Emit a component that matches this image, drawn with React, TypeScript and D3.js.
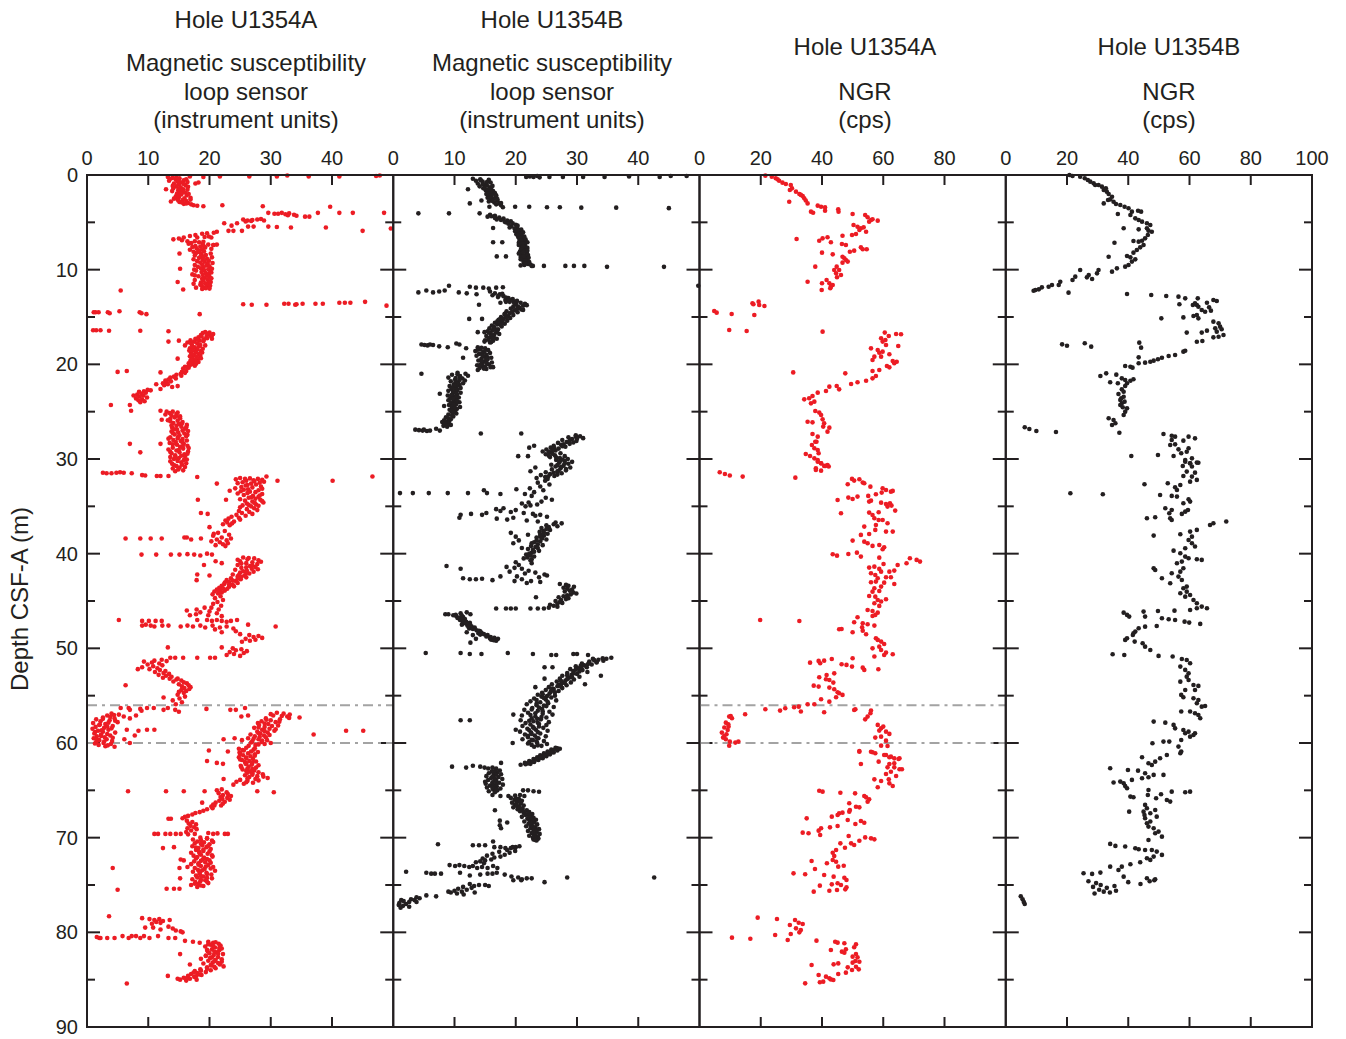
import React from "react";
import * as d3 from "d3";

// Core-logging scatter plots: magnetic susceptibility (loop sensor) and NGR
// versus depth for Holes U1354A and U1354B.

type Pt = [number, number]; // [depth CSF-A (m), measured value]

const depthTicks = [0, 10, 20, 30, 40, 50, 60, 70, 80, 90];
const depthMinorTicks = [5, 15, 25, 35, 45, 55, 65, 75, 85];
const msTicks = [0, 10, 20, 30, 40];
const ngrTicksA = [0, 20, 40, 60, 80];
const ngrTicksB = [0, 20, 40, 60, 80, 100];
const gapDepths = [56, 60];

// Hole U1354A, magnetic susceptibility (instrument units)
const msHoleA: Pt[] = [
  [0.2,13.2],[0.3,14.0],[0.35,15.1],[0.4,13.6],[0.5,14.5],[0.55,15.8],[0.6,13.4],[0.7,14.8],[0.8,15.5],[0.9,14.2],[1.0,15.0],[1.1,16.1],[1.2,14.6],[1.3,15.3],[1.4,14.1],[1.5,15.7],[1.6,14.9],[1.7,13.9],[1.75,15.2],[1.85,16.0],[1.95,14.7],[2.05,15.4],[2.15,16.3],[2.25,14.5],[2.35,15.0],[2.45,15.9],[2.55,14.8],[2.65,15.6],[2.75,16.2],[2.85,15.1],[2.95,16.5],[3.05,15.8],[3.1,17.0],[1.5,12.9],[2.8,13.7],[0.9,17.7],[0.8,18.2],
  [0.15,16.8],[0.2,19.0],[0.15,21.7],[0.15,26.5],[0.15,31.0],[0.05,32.7],[0.15,36.2],[0.15,41.2],[0.1,47.2],[0.05,47.8],
  [3.2,17.4],[3.25,18.0],[3.3,19.0],[3.2,22.1],[3.3,28.7],
  [4.0,29.6],[4.1,30.6],[4.0,31.8],[4.15,32.4],[4.05,33.0],[4.2,33.8],[4.3,34.2],[4.25,32.8],[4.1,31.2],[4.4,35.6],[4.4,36.3],[4.0,37.7],[3.35,39.7],[4.0,41.2],[4.0,43.4],[4.0,48.5],
  [4.7,25.5],[4.8,26.2],[4.75,27.0],[4.7,27.8],[4.65,28.4],[4.8,28.9],[4.85,26.8],[4.9,25.9],[5.1,24.5],[5.1,22.4],[5.35,23.6],[5.45,29.6],[5.5,31.0],[5.55,33.3],[5.55,39.0],[5.9,45.0],[5.65,49.6],
  [5.45,26.3],[5.45,27.2],[5.9,25.3],[5.9,23.9],[5.9,23.1],[6.0,21.2],[6.1,20.7],[6.15,19.6],[6.2,18.8],[6.35,17.7],[6.45,16.8],[6.6,15.8],[6.7,15.0],[6.8,14.1],[6.6,18.0],[6.55,19.2],[6.5,19.9],[6.6,20.3],
  [6.9,15.5],[7.0,16.4],[7.0,17.6],[7.1,18.3],[7.2,17.0],[7.3,18.9],[7.35,19.8],[7.4,20.6],[7.5,17.7],[7.55,18.5],[7.65,19.3],[7.75,17.9],[7.85,18.8],[7.95,18.2],[8.05,19.1],[8.15,18.4],[8.25,17.8],[8.35,18.7],[8.45,19.4],[8.55,18.6],[8.65,19.0],[8.75,18.3],[8.85,19.6],[8.95,18.9],[9.05,19.9],[9.15,19.2],[9.25,18.5],[9.35,19.7],[9.45,18.8],[9.55,19.5],[9.65,20.0],[9.75,19.0],[9.85,18.6],[9.95,19.8],[10.05,19.1],[10.15,20.1],[10.25,18.7],[10.35,19.4],[10.45,19.9],[10.55,18.9],[10.65,19.6],[10.75,20.0],[10.85,19.2],[10.95,18.8],[11.05,19.7],[11.15,19.0],[11.25,19.9],[11.35,18.6],[11.45,19.3],[11.55,19.8],[11.65,18.7],[11.75,19.5],[11.85,18.9],[11.95,19.4],[12.05,18.8],
  [8.3,15.1],[9.9,15.2],[11.3,14.8],[12.1,15.7],[10.0,17.5],[10.6,17.6],[11.6,18.5],[7.4,20.7],[7.35,21.2],
  [12.2,5.5],
  [13.65,25.5],[13.7,26.9],[13.7,29.3],[13.6,32.2],[13.6,32.9],[13.7,34.0],[13.65,34.2],[13.6,35.2],[13.6,37.3],[13.6,38.5],[13.5,41.2],[13.5,42.1],[13.5,43.0],[13.4,45.4],[13.8,48.9],
  [14.5,1.1],[14.5,1.4],[14.5,1.9],[14.5,3.4],[14.6,3.7],[14.4,5.3],[14.5,8.6],[14.6,8.9],[14.7,9.7],[14.7,18.4],
  [16.4,1.0],[16.4,1.5],[16.4,2.2],[16.45,3.6],[16.45,8.7],[16.5,13.3],
  [16.6,19.3],[16.65,20.0],[16.7,18.9],[16.8,20.6],[16.85,19.8],[16.9,18.6],[17.0,20.2],[17.1,19.5],[17.15,18.2],[17.3,17.7],[17.35,19.1],[17.45,16.9],[17.5,18.4],[17.6,17.5],[17.7,16.4],[17.8,18.0],[17.9,17.1],[18.0,16.0],[18.1,18.3],[18.2,17.6],[18.3,16.8],[18.4,18.0],[18.5,17.3],[18.6,18.6],[18.7,17.8],[18.8,17.0],[18.9,18.2],[19.0,17.5],[19.1,18.5],[19.2,17.9],[19.3,17.2],[19.4,18.1],[19.5,17.6],[19.6,16.9],[19.7,17.7],[19.8,17.2],[19.9,16.6],[20.0,17.4],[20.1,16.8],[20.25,16.0],[20.35,16.6],[20.45,15.7],
  [17.5,15.0],[17.6,13.3],[19.4,14.8],[18.0,19.3],[17.3,20.4],
  [20.7,16.2],[20.8,15.5],[20.9,16.0],[21.0,15.3],[21.1,14.6],[21.2,15.4],[21.3,14.2],[21.4,13.6],[21.5,14.5],[21.6,13.3],[21.7,12.8],[21.8,13.7],[21.9,13.0],[22.0,12.4],[22.1,13.2],[22.2,12.6],[22.3,14.8],[22.4,13.9],
  [20.8,5.0],[20.7,6.5],[20.85,12.0],[22.1,11.3],[22.6,12.0],
  [22.7,9.9],[22.75,10.4],[22.85,9.3],[22.9,8.5],[23.0,9.6],[23.1,8.9],[23.2,8.2],[23.3,9.2],[23.4,8.6],[23.5,9.8],[23.6,8.0],[23.7,9.0],[23.8,8.4],[23.9,9.4],[24.0,8.7],[23.3,7.6],
  [24.3,3.9],[24.3,7.0],[24.9,7.2],
  [24.9,12.0],[25.0,13.0],[25.0,14.0],[25.15,13.5],[25.25,14.6],[25.4,13.8],[25.5,15.2],[25.6,14.3],[25.75,13.6],[25.85,12.2],[25.9,13.2],[25.95,14.8],[26.1,15.6],[26.2,14.1],[26.3,15.0],[26.4,16.3],[26.5,14.6],[26.6,15.4],[26.7,13.9],[26.8,16.0],[26.9,14.7],[27.0,15.6],[27.1,13.8],[27.2,14.9],[27.3,15.9],[27.4,14.3],[27.5,15.1],[27.6,16.2],[27.7,13.6],[27.8,14.8],[27.9,15.6],[28.0,14.1],[28.1,15.3],[28.2,14.5],[28.3,13.5],[28.4,15.8],[28.5,14.7],[28.6,16.4],[28.7,15.2],[28.8,14.0],[28.9,15.7],[29.0,13.3],[29.1,14.6],[29.2,16.5],[29.3,15.1],[29.4,13.8],[29.5,15.9],[29.6,14.4],[29.7,16.0],[29.8,13.6],[29.9,15.0],[30.0,14.2],[30.1,15.8],[30.2,14.8],[30.35,15.4],[30.5,13.9],[30.6,15.5],[30.75,14.6],[30.9,15.1],[31.0,14.0],[31.2,15.7],[31.3,14.4],
  [28.4,7.0],[29.3,8.7],[28.4,12.0],
  [31.45,2.6],[31.5,3.2],[31.5,4.0],[31.45,4.8],[31.4,5.4],[31.45,6.0],[31.5,7.3],[31.7,9.0],[31.75,9.5],[31.8,11.4],[31.8,12.0],[31.8,13.3],[31.9,18.0],
  [31.85,29.3],[32.3,31.1],[32.3,40.1],[31.85,46.6],
  [32.0,25.0],[32.05,26.6],[32.1,27.9],[32.15,24.3],[32.2,28.6],[32.3,26.0],[32.35,27.3],[32.45,25.4],[32.5,28.2],[32.6,26.8],[32.7,27.6],[32.8,25.9],[32.9,28.4],[33.0,27.0],[33.1,24.2],[33.2,26.3],[33.3,28.0],[33.35,23.3],[33.4,25.1],[33.5,27.5],[33.6,26.2],[33.7,28.6],[33.8,25.6],[33.9,27.1],[34.0,28.0],[34.1,26.4],[34.2,27.5],[34.3,28.3],[34.4,25.8],[34.5,27.0],[34.6,28.8],[34.7,26.1],[34.8,27.6],[34.9,25.4],[35.0,26.8],
  [32.6,21.2],[34.3,18.1],[34.3,22.7],
  [35.1,25.0],[35.2,27.3],[35.3,26.1],[35.4,27.8],[35.5,24.8],[35.6,26.5],[35.7,25.3],[35.8,27.0],[35.9,24.4],[36.0,25.9],[36.1,23.6],[36.2,24.8],[36.3,23.1],[36.4,25.0],[36.5,22.6],[36.6,24.0],[36.7,22.9],[36.8,23.7],[36.9,22.2],[37.0,23.3],
  [35.7,18.6],[35.8,19.7],[37.2,20.0],[37.9,20.7],
  [37.6,22.5],[37.8,21.4],[38.0,23.2],[38.1,20.6],[38.3,22.0],[38.4,23.5],[38.5,21.2],[38.6,22.8],[38.7,20.3],[38.8,21.7],[38.9,23.0],[39.0,22.2],[39.1,21.0],[39.2,22.6],
  [38.4,6.3],[38.4,8.7],[38.4,10.4],[38.4,12.2],[38.3,15.9],[38.3,16.3],[38.5,17.0],[38.4,18.6],
  [40.1,8.9],[40.1,11.3],[40.1,13.7],[40.1,15.1],[40.05,16.4],[40.1,17.5],[40.2,18.5],[40.0,19.6],[40.1,20.4],
  [40.4,25.5],[40.5,27.3],[40.6,26.2],[40.7,28.0],[40.8,25.0],[40.9,27.0],[41.0,26.0],[41.1,27.8],[41.2,24.6],[41.3,26.6],[41.4,27.5],[41.5,25.2],[41.6,26.9],[41.7,24.2],[41.8,26.1],[41.9,27.2],[42.0,25.0],[42.1,26.5],[42.2,23.8],[42.3,25.7],[42.4,24.6],[42.5,26.0],[42.6,23.5],[42.7,25.1],[42.8,22.8],[42.9,24.3],[43.0,23.2],[43.1,24.6],[43.2,22.4],[43.3,23.8],[43.4,22.0],[43.5,23.2],[43.6,21.6],[43.7,22.9],[43.8,21.2],[43.9,22.5],[44.0,20.8],[44.1,22.0],[44.2,21.4],[44.3,20.5],
  [42.2,18.0],[42.3,20.0],[41.2,19.1],[42.8,17.9],[41.0,22.0],[40.8,21.0],
  [44.5,21.8],[44.7,20.9],[44.9,22.2],[45.1,21.3],[45.3,20.6],[45.5,21.9],[45.7,20.3],[45.9,21.5],[46.1,20.0],[46.3,21.2],[46.5,19.8],[46.6,22.0],
  [45.9,17.9],[46.0,16.3],[46.2,18.5],[45.7,19.2],[46.5,16.8],[46.4,17.8],
  [47.0,5.2],[47.1,9.0],[47.1,10.1],[47.1,11.2],[47.1,12.2],[47.0,18.0],[47.0,19.6],[47.1,20.4],[47.0,21.2],[47.1,22.0],[47.2,22.8],[47.1,23.5],[47.0,24.5],
  [47.6,9.0],[47.5,9.6],[47.6,10.4],[47.7,11.0],[47.6,12.3],[47.6,13.3],[47.7,15.3],[47.6,16.4],[47.7,17.3],[47.6,18.5],[47.8,19.3],[47.6,20.5],[47.8,21.7],[47.7,22.8],[47.9,23.9],[48.0,20.9],[48.3,22.0],[48.2,24.3],[47.5,26.3],[47.7,30.8],
  [48.6,26.5],[48.7,28.0],[48.8,27.2],[48.9,28.6],[49.0,25.9],[49.1,27.5],[49.2,26.6],[48.5,25.0],[49.3,25.3],
  [49.9,22.0],[50.0,23.8],[50.1,25.2],[50.2,24.3],[50.3,26.1],[50.4,23.3],[50.5,25.6],[50.6,24.0],[50.7,22.8],[50.8,25.0],[49.9,13.2],
  [51.0,13.6],[51.0,14.4],[51.0,15.7],[51.0,18.0],[51.0,20.1],[51.0,20.9],
  [51.2,12.2],[51.3,11.0],[51.35,13.0],[51.4,9.3],[51.5,10.6],[51.6,11.8],[51.7,9.9],[51.8,12.3],[51.9,10.8],[52.0,9.0],[52.1,11.5],[52.2,10.2],[52.3,11.9],[52.4,12.8],[52.5,11.1],[52.6,12.5],[52.7,13.4],[52.8,11.7],[52.9,12.9],[53.0,13.8],[53.1,12.4],[53.2,13.5],[53.3,14.6],[53.4,15.4],[53.5,14.1],[53.6,15.8],[53.7,16.3],[53.8,15.0],[53.9,16.6],[54.0,15.5],[54.1,16.9],[54.2,15.9],[54.3,16.7],[54.4,15.4],[54.5,16.2],[54.6,15.0],[54.7,15.8],
  [52.2,8.3],[53.9,6.3],[53.2,14.8],
  [54.9,14.8],[55.1,16.0],[55.3,15.1],[55.5,14.0],[55.7,15.5],[55.9,14.5],[55.2,12.5],
  [56.3,5.5],[56.3,6.8],[56.5,7.0],[56.4,8.7],[56.3,9.8],[56.3,10.9],[56.5,12.5],[56.3,13.2],[56.5,14.4],[56.7,15.0],[56.6,8.9],[56.4,19.5],[56.5,23.4],[56.5,24.3],[56.3,25.8],
  [56.9,4.0],[57.0,5.2],[57.1,3.3],[57.2,6.0],[57.3,2.6],[57.4,4.5],[57.5,1.5],[57.6,3.7],[57.7,2.2],[57.8,5.0],[57.9,1.0],[58.0,3.0],[58.1,2.0],[58.2,4.2],[58.3,1.4],[58.4,2.8],[58.5,0.9],[58.6,3.5],[58.7,1.8],[58.8,2.6],[58.9,4.6],[59.0,1.2],[59.1,2.3],[59.2,3.8],[59.3,1.6],[59.4,2.9],[59.5,1.1],[59.6,3.2],[59.7,2.0],[59.8,4.1],[59.9,1.5],[60.0,2.7],[60.1,3.9],[60.2,1.9],[60.35,3.0],[60.4,4.5],
  [57.4,7.0],[58.6,6.5],[58.7,8.4],[58.6,9.8],[58.6,11.0],[59.2,7.8],[60.0,7.0],[59.6,6.1],[57.1,8.0],
  [56.8,31.0],[56.9,32.1],[57.0,33.1],[57.1,30.4],[57.2,32.7],[57.3,34.7],[57.4,29.2],[57.5,31.5],[57.6,30.0],[57.7,28.5],[57.8,30.8],[57.9,27.9],[58.0,29.6],[58.1,28.1],[58.2,30.2],[58.3,29.0],[58.4,27.3],[58.5,29.8],[58.6,28.6],[58.7,30.6],[58.8,27.8],[58.9,29.5],[59.0,28.3],[59.1,26.7],[59.2,28.9],[59.3,27.4],[59.4,29.2],[59.5,26.3],[59.6,28.0],[59.7,29.4],[59.8,27.0],[59.9,28.5],[60.0,30.0],[60.1,29.0],[60.2,27.5],
  [59.1,37.0],[58.7,42.3],[58.7,45.1],[59.6,22.3],[59.5,24.1],[59.7,25.3],[57.2,25.2],[57.1,26.3],
  [60.5,26.0],[60.6,24.8],[60.7,27.2],[60.8,25.6],[60.9,26.8],[61.0,24.9],[61.1,26.3],[61.2,27.4],[61.3,25.5],[61.4,26.7],[61.5,24.8],[61.6,26.0],[61.7,27.1],[61.8,25.3],[61.9,26.5],[62.0,25.8],[62.1,27.0],[62.2,25.9],[62.3,26.9],[62.4,25.1],[62.5,26.4],[62.6,27.6],[62.7,26.2],[62.8,25.4],[62.9,27.3],[63.0,26.6],[63.1,28.0],[63.2,27.0],[63.3,28.7],[63.4,25.8],[63.5,27.8],[63.6,26.5],[63.7,29.5],[63.8,27.5],[63.9,25.0],[64.0,26.2],[64.1,24.4],[64.2,27.1],[64.3,25.6],
  [60.8,19.9],[60.9,23.0],[61.9,19.6],[62.1,21.2],[62.2,22.2],[63.8,22.3],[64.4,23.9],[65.1,27.8],[65.2,30.5],
  [65.1,6.7],[65.1,12.9],[65.1,15.8],[65.1,19.2],
  [64.9,22.0],[65.0,21.2],[65.2,22.8],[65.3,21.5],[65.4,23.0],[65.5,22.2],[65.6,23.5],[65.7,21.8],[65.8,22.9],[65.9,22.1],[66.0,23.3],[66.1,21.6],[66.2,22.5],[66.3,21.0],[66.4,22.2],[66.5,20.6],[66.6,21.9],[66.7,20.3],[66.3,18.8],[66.6,20.8],
  [66.9,20.5],[67.0,19.6],[67.15,19.0],[67.3,18.4],[67.4,17.7],[67.55,17.2],[67.7,16.5],[67.8,16.0],[67.95,15.6],[68.0,13.3],[68.0,13.7],
  [68.2,16.3],[68.35,17.2],[68.5,16.6],[68.6,17.8],[68.75,16.9],[68.9,17.5],[69.0,16.4],[69.1,17.9],[69.25,17.0],[69.4,16.2],
  [69.6,11.0],[69.6,11.6],[69.6,12.8],[69.6,13.6],[69.6,14.5],[69.6,15.3],[69.65,16.5],[69.6,17.6],[69.5,19.8],[69.6,20.6],[69.55,21.3],[69.6,22.5],[69.6,23.0],
  [70.0,18.5],[70.1,19.6],[70.2,17.3],[70.3,20.4],[70.4,18.0],[70.5,19.1],[70.6,17.6],[70.7,20.0],[70.8,18.8],[70.9,17.2],[71.0,19.5],[71.1,18.2],[71.2,20.2],[71.3,17.8],[71.4,19.0],[71.5,18.3],[71.6,17.0],[71.7,19.7],[71.8,18.6],[71.9,17.4],[72.0,20.5],[72.1,19.1],[72.2,17.8],[72.3,18.9],[72.4,20.0],[72.5,17.5],[72.6,19.3],[72.7,18.2],[72.8,17.0],[72.9,19.8],[73.0,18.6],[73.1,20.6],[73.2,17.6],[73.3,19.2],[73.4,18.1],[73.5,20.9],[73.6,17.3],[73.7,19.5],[73.8,18.4],[73.9,20.3],[74.0,17.8],[74.1,19.0],[74.2,18.0],[74.3,20.4],[74.4,17.2],[74.5,19.3],[74.6,18.5],[74.7,17.7],[74.8,19.8],[74.9,18.2],[75.0,17.0],[75.1,19.0],[75.2,18.0],
  [71.1,12.4],[71.0,14.2],[72.3,15.3],[72.4,15.8],[73.2,15.1],[74.3,15.2],[73.1,16.4],[73.2,4.2],[75.5,5.0],[75.4,13.0],[75.4,14.2],[75.4,15.1],
  [78.3,3.6],[78.5,9.0],[78.6,10.2],[78.7,11.0],[78.6,11.8],[78.8,12.4],[78.9,11.3],[78.7,13.5],[79.0,12.0],[79.1,10.6],
  [79.5,9.5],[79.5,10.8],[79.7,12.0],[79.4,13.3],[79.8,14.5],[79.9,15.3],[80.0,15.6],[79.6,14.0],
  [80.5,1.6],[80.6,2.0],[80.6,2.2],[80.6,3.3],[80.6,4.5],[80.4,5.8],[80.6,6.8],[80.4,7.3],[80.4,8.0],[80.6,8.7],[80.4,9.3],[80.6,10.2],[80.4,11.6],[80.6,13.3],[80.6,14.4],
  [80.9,16.0],[81.0,17.3],[81.1,18.4],[81.0,19.8],[81.1,20.6],[81.2,21.5],[81.3,20.2],[81.4,21.8],[81.5,19.3],[81.6,20.9],[81.7,22.0],[81.8,20.4],[81.9,21.6],[82.0,19.7],[82.1,21.2],[82.2,20.0],[82.3,22.2],[82.4,20.7],[82.5,19.4],[82.6,21.4],[82.7,20.1],[82.8,18.6],[82.9,21.0],[83.0,19.8],[83.1,22.0],[83.2,20.5],[83.3,19.0],[83.4,21.7],[83.5,20.3],[83.6,22.3],[83.7,19.6],[83.8,21.0],[83.9,18.5],[84.0,20.2],[84.1,17.6],[84.2,19.4],[84.3,18.0],[84.4,17.0],[84.5,18.7],[84.6,16.5],[84.7,17.5],[84.8,15.8],[84.9,16.8],[85.0,15.2],[85.1,16.2],[85.0,17.9],[84.9,14.8],
  [82.3,15.2],[83.4,16.8],[84.6,13.2],[85.4,6.5],
  // densely sampled core intervals
  [0.25,14.6],[0.45,16.2],[0.65,15.0],[0.75,16.4],[0.95,15.8],[1.15,14.0],[1.25,16.5],[1.45,15.0],[1.55,16.4],[1.65,15.6],[1.9,15.4],[2.0,16.6],[2.2,15.0],[2.4,16.9],[2.5,14.2],[2.6,16.9],[2.7,14.9],[2.9,15.5],[3.0,16.2],
  [7.05,19.0],[7.25,16.6],[7.45,19.0],[7.6,17.2],[7.8,20.3],[7.9,16.8],[8.1,17.4],[8.3,20.2],[8.5,17.6],[8.7,20.4],[8.9,17.4],[9.1,18.0],[9.3,20.5],[9.5,17.6],[9.7,18.1],[9.9,20.4],[10.1,17.8],[10.3,20.3],[10.5,17.2],[10.7,18.2],[10.9,20.3],[11.1,17.6],[11.3,20.2],[11.5,17.4],[11.7,20.1],[11.9,17.8],[12.0,20.0],
  [16.75,19.6],[16.95,20.4],[17.05,18.7],[17.25,19.6],[17.4,18.0],[17.55,19.0],[17.75,17.0],[17.95,18.5],[18.15,17.2],[18.35,18.9],[18.55,16.7],[18.75,18.8],[18.95,17.2],[19.15,16.8],[19.35,18.6],[19.55,17.0],[19.75,18.2],[19.95,17.8],[20.15,17.6],[20.3,16.4],
  [25.1,14.8],[25.3,12.8],[25.45,14.6],[25.7,15.2],[26.0,13.6],[26.25,15.5],[26.45,13.8],[26.65,16.2],[26.85,14.2],[27.05,16.5],[27.25,14.0],[27.45,16.4],[27.65,14.9],[27.85,13.3],[28.05,16.3],[28.25,15.6],[28.45,14.0],[28.65,15.6],[28.85,16.6],[29.05,15.0],[29.25,13.6],[29.45,16.4],[29.65,15.4],[29.85,14.4],[30.05,16.3],[30.25,13.6],[30.45,16.2],[30.65,14.2],[30.85,16.0],[31.1,14.9],
  [32.1,25.8],[32.25,27.2],[32.4,28.9],[32.55,24.6],[32.75,26.2],[32.95,25.2],[33.15,28.6],[33.25,25.6],[33.45,26.6],[33.65,24.6],[33.85,28.2],[34.05,26.8],[34.25,25.0],[34.45,28.6],[34.65,27.4],[34.85,26.4],[34.95,28.0],
  [40.45,26.4],[40.65,24.6],[40.85,28.4],[41.05,25.2],[41.25,27.0],[41.45,26.0],[41.65,27.9],[41.85,25.5],[42.05,26.0],[42.25,24.8],[42.45,25.2],[42.65,24.6],[42.85,23.8],[43.05,22.5],[43.25,23.2],[43.45,24.0],[43.65,22.2],[43.85,21.8],[44.05,21.6],
  [57.05,4.4],[57.25,3.8],[57.45,2.6],[57.65,4.6],[57.85,3.5],[58.05,2.1],[58.25,3.3],[58.45,4.0],[58.65,2.4],[58.85,1.3],[59.05,3.3],[59.25,2.3],[59.45,4.2],[59.65,1.6],[59.85,2.8],[60.05,1.3],[60.25,3.4],
  [56.95,30.0],[57.15,31.8],[57.35,33.0],[57.55,29.3],[57.75,31.4],[57.95,29.0],[58.15,31.2],[58.35,28.0],[58.55,30.8],[58.75,29.0],[58.95,28.0],[59.15,29.8],[59.35,28.2],[59.55,27.2],[59.75,28.6],[59.95,26.8],[60.15,28.0],[60.3,26.4],
  [60.55,27.4],[60.75,25.4],[60.95,27.9],[61.15,25.0],[61.35,27.4],[61.55,26.0],[61.75,25.0],[61.95,27.6],[62.15,26.0],[62.35,28.0],[62.55,25.2],[62.75,27.0],[62.95,26.0],[63.15,26.2],[63.35,27.0],[63.55,28.8],[63.75,26.2],[63.95,28.0],[64.15,26.0],
  [70.05,19.6],[70.25,18.6],[70.45,20.6],[70.65,18.6],[70.85,19.8],[71.05,17.8],[71.25,19.0],[71.45,20.0],[71.65,18.4],[71.85,20.4],[72.05,18.0],[72.25,19.6],[72.45,18.6],[72.65,20.2],[72.85,18.2],[73.05,19.4],[73.25,20.2],[73.45,18.8],[73.65,18.4],[73.85,19.6],[74.05,18.6],[74.25,19.6],[74.45,18.6],[74.65,19.6],[74.85,17.6],[75.05,18.6],
  [81.05,21.0],[81.25,19.8],[81.45,20.6],[81.65,21.6],[81.85,19.6],[82.05,20.8],[82.25,21.4],[82.45,19.4],[82.65,20.4],[82.85,22.0],[83.05,20.8],[83.25,21.4],[83.45,20.2],[83.65,20.8],[83.85,19.6],[84.05,18.6],[84.25,17.4],[84.45,18.4],[84.65,17.8],[84.85,16.2],
];

// Hole U1354B, magnetic susceptibility (instrument units)
const msHoleB: Pt[] = [
  [0.2,21.7],[0.15,22.3],[0.2,22.9],[0.1,23.5],[0.25,23.9],[0.2,25.5],[0.2,27.7],[0.2,31.0],[0.2,34.5],[0.15,38.5],[0.2,43.5],[0.1,45.3],[0.1,47.9],
  [0.4,13.0],[0.45,14.2],[0.5,15.6],[0.6,13.5],[0.7,14.6],[0.8,15.9],[0.9,13.8],[1.0,14.9],[1.1,15.3],[1.2,14.1],[1.3,15.8],[1.4,14.7],[1.5,16.0],[1.6,15.1],[1.7,16.3],[1.8,15.5],[1.9,16.6],[2.0,15.2],[2.1,16.1],[2.2,15.7],[2.3,16.8],[2.4,15.4],[2.5,16.4],[2.6,15.9],[2.7,17.0],[2.8,15.6],[2.9,16.5],[3.0,17.3],[3.1,16.8],[3.2,17.6],
  [1.5,12.2],[3.0,12.5],[2.7,14.4],
  [3.35,15.7],[3.4,17.9],[3.35,19.9],[3.35,22.2],[3.4,25.1],[3.4,27.2],[3.45,30.7],[3.45,36.4],[3.5,45.0],
  [4.05,4.1],[4.05,9.1],[4.05,14.1],
  [4.2,15.8],[4.3,16.6],[4.4,15.4],[4.5,17.3],[4.6,18.0],[4.7,16.9],[4.8,18.6],[4.9,19.2],[5.0,18.4],[5.1,19.5],[5.25,20.0],[5.4,19.3],[5.5,20.2],[5.65,19.8],[5.8,20.5],[5.95,19.9],[6.1,20.7],[6.25,20.1],[6.4,21.0],[6.55,20.4],[6.7,21.2],[6.85,20.6],[7.0,21.3],[7.15,20.5],[7.3,21.5],[7.45,20.8],[7.6,21.6],[7.75,20.9],[7.9,21.4],[8.05,20.7],[8.2,21.8],[8.35,21.0],[8.5,21.5],[8.65,20.8],[8.8,21.7],[8.95,21.1],[9.1,21.9],[9.25,21.3],[9.4,22.0],[9.5,21.4],[9.6,22.6],[9.55,20.8],
  [5.6,16.3],[7.1,16.3],[7.1,17.8],[8.6,16.9],[8.6,18.4],
  [9.6,22.8],[9.6,24.6],[9.6,28.1],[9.6,29.5],[9.6,31.2],[9.7,34.9],[9.7,44.2],
  [11.7,49.8],
  [12.4,4.1],[12.2,5.4],[12.4,6.5],[12.3,7.5],[12.2,8.4],[11.7,9.1],[12.4,10.7],[12.5,12.0],[11.8,12.5],[11.9,13.5],[12.6,13.6],[11.9,14.7],[12.0,15.6],[11.9,16.8],[11.85,17.9],
  [12.3,15.8],[12.5,16.6],[12.6,17.4],[12.7,16.2],[12.8,18.0],[12.9,17.1],[13.0,18.8],[13.1,19.5],[13.2,18.3],[13.3,20.2],[13.4,19.0],[13.5,20.8],[13.6,21.5],[13.7,20.1],[13.8,21.2],[13.9,19.6],[14.0,20.6],[14.1,19.2],[14.2,20.9],[14.3,19.8],[13.4,18.4],[13.5,17.5],
  [13.7,14.0],[15.2,12.4],[15.2,14.5],
  [14.4,18.5],[14.5,20.3],[14.6,19.0],[14.7,18.2],[14.8,19.6],[14.9,18.8],[15.0,17.6],[15.1,19.1],[15.2,18.0],[15.3,17.2],[15.4,18.6],[15.5,17.8],[15.6,16.6],[15.7,18.2],[15.8,17.0],[15.9,16.1],[16.0,17.7],[16.1,16.5],[16.2,15.7],[16.3,17.1],[16.4,16.2],[16.5,15.4],[16.6,16.8],[16.7,15.9],[16.8,17.3],[16.9,16.0],[17.0,15.2],[17.1,16.4],[17.2,15.7],[17.3,16.9],[17.4,15.5],[17.5,16.3],[17.6,14.9],[17.7,15.8],
  [16.6,13.8],[16.6,14.9],
  [17.9,4.6],[17.95,5.1],[18.0,5.6],[17.9,6.0],[17.95,6.5],[18.1,7.5],[18.2,8.9],[17.8,10.3],[17.9,10.8],[18.3,11.9],
  [18.2,13.8],[18.3,15.0],[18.4,14.2],[18.5,15.5],[18.6,13.4],[18.7,14.7],[18.8,15.8],[18.9,14.0],[19.0,15.2],[19.1,13.6],[19.2,14.9],[19.3,16.0],[19.4,14.4],[19.5,15.4],[19.6,13.9],[19.7,14.8],[19.8,16.1],[19.9,14.5],[20.0,15.6],[20.1,13.7],[20.2,14.6],[20.3,15.9],[20.4,14.1],[20.5,15.2],[20.6,13.8],
  [19.3,11.4],[20.3,16.3],[21.0,4.6],
  [20.9,10.5],[21.0,11.8],[21.1,9.6],[21.2,12.2],[21.3,10.9],[21.4,9.0],[21.5,11.3],[21.6,10.1],[21.7,11.7],[21.8,9.4],[21.9,10.6],[22.0,11.4],[22.1,9.9],[22.2,10.8],[22.3,9.2],[22.4,10.3],[22.5,11.0],[22.6,9.5],[22.7,10.5],[22.8,9.0],[22.9,10.1],[23.0,11.0],[23.1,9.7],[23.2,10.4],[23.3,8.9],[23.4,9.8],[23.5,10.7],[23.6,9.3],[23.7,10.2],[23.8,9.0],[23.9,9.9],[24.0,10.8],[24.1,9.5],[24.2,10.3],[24.3,9.1],[24.4,10.0],[24.5,10.9],[24.6,9.6],[24.7,10.4],[24.8,9.2],[24.9,10.1],[25.0,9.5],[25.2,10.3],[25.3,9.0],[25.5,9.8],[25.6,8.6],[25.8,9.4],[25.9,8.3],[26.0,9.1],[26.1,8.0],[26.2,9.0],[26.3,8.5],[26.4,9.4],[26.5,8.2],[26.6,8.8],
  [23.1,7.6],[24.4,8.3],
  [26.9,3.6],[26.95,4.2],[27.0,4.8],[27.05,5.5],[27.0,6.0],[26.9,5.0],[26.8,7.0],[27.0,7.6],[27.3,14.3],[27.3,20.9],
  [27.5,29.8],[27.6,30.5],[27.7,28.6],[27.8,31.0],[27.9,29.2],[28.0,27.6],[28.1,29.9],[28.2,28.3],[28.3,26.9],[28.4,28.8],[28.5,27.4],[28.6,26.2],[28.7,28.1],[28.8,25.7],[28.9,27.0],[29.0,25.0],[29.1,26.5],[29.2,24.4],[29.3,25.8],[29.4,27.3],[29.5,24.9],[29.6,26.4],[29.7,28.0],[29.8,25.6],[29.9,27.2],[30.0,28.5],[30.1,26.6],[30.2,28.0],[30.3,29.2],[30.4,27.1],[30.5,28.6],[30.6,25.8],[30.7,27.8],[30.8,26.5],[30.9,28.9],[31.0,27.3],[31.1,25.9],[31.2,28.2],[31.3,26.8],[31.4,24.9],[31.5,27.5],[31.6,25.6],[31.7,24.1],[31.8,26.3],[31.9,24.8],[32.0,23.4],[32.1,25.2],
  [29.7,20.4],[29.7,22.0],[28.6,23.0],[28.8,22.2],[30.9,23.2],[31.3,22.4],
  [33.6,1.1],[33.6,3.2],[33.6,5.8],[33.6,8.9],[33.6,12.2],[33.3,14.8],[33.6,15.3],[33.7,17.5],[33.2,20.1],
  [32.3,24.8],[32.5,23.6],[32.7,25.5],[32.9,24.0],[33.1,22.3],[33.3,24.5],[33.5,23.0],[33.7,21.5],[33.9,22.6],[34.1,24.9],[34.3,25.9],[34.5,24.2],[34.6,22.1],[34.7,21.0],[34.8,23.5],[34.9,22.4],[35.0,21.6],
  [35.2,18.0],[35.3,16.8],[35.4,20.0],[35.5,17.5],[35.6,19.2],[35.7,21.3],[35.8,22.8],[35.9,24.0],[36.0,23.2],[36.1,25.1],[36.2,19.6],[36.3,16.9],[36.4,18.6],[36.5,21.8],[36.6,23.6],[36.7,26.5],[36.8,27.5],
  [35.9,11.0],[35.8,12.7],[35.9,14.5],[35.7,15.2],[36.2,10.8],
  [36.9,26.2],[37.0,25.0],[37.1,26.8],[37.3,24.2],[37.5,25.6],[37.7,23.9],[37.9,25.2],[38.1,24.6],[38.3,23.4],[38.5,25.0],[38.7,24.0],[38.9,22.6],[39.1,24.4],[39.3,23.2],[39.5,22.0],[39.7,23.8],[39.9,22.6],[40.1,21.7],[40.3,23.0],[40.5,21.3],[40.7,22.4],[38.0,22.0],[38.6,20.5],[39.4,21.0],[37.8,19.2],[38.9,19.6],[38.2,20.0],
  [41.3,8.7],[41.6,11.0],[42.6,11.4],[42.7,12.5],[42.7,13.5],[42.65,14.5],[42.8,16.2],[42.4,17.5],[41.4,18.5],[41.5,19.8],[41.6,21.0],[41.8,22.1],[42.0,23.2],[42.2,24.7],[42.3,25.1],[42.5,23.8],[42.9,22.5],[43.0,24.0],[41.2,20.5],[41.9,19.0],[42.1,21.5],[42.4,20.2],[42.7,21.0],[42.9,19.8],[43.1,21.8],[41.0,22.6],[40.9,20.0],
  [43.2,27.2],[43.4,28.6],[43.5,29.5],[43.6,27.8],[43.8,29.2],[44.0,28.0],[44.2,29.9],[44.4,28.4],[44.6,27.0],[44.8,28.2],[45.0,26.5],[45.2,27.6],[45.4,25.6],[45.6,26.8],[45.8,24.6],[44.6,23.3],[45.8,16.8],[45.8,18.4],[45.8,19.2],[45.8,20.0],[45.8,22.4],[45.8,23.6],
  [46.4,8.5],[46.4,9.0],[46.5,9.8],[46.6,10.3],[46.3,11.0],[46.2,12.0],[46.4,12.6],[46.7,11.4],[46.8,10.5],[46.9,11.7],[47.0,10.9],[47.2,11.9],[47.3,12.5],[47.4,11.3],[47.6,12.1],[47.7,12.8],[47.8,13.3],[47.9,12.4],[48.1,13.6],[48.2,14.2],[48.4,13.9],[48.5,14.8],[48.6,15.4],[48.8,15.9],[48.9,16.5],[49.0,17.1],[49.1,16.0],[49.2,16.8],[47.5,11.2],[48.3,12.0],[48.6,13.0],[49.4,12.6],[49.0,13.5],
  [50.5,5.3],[50.5,11.0],[50.6,12.5],[50.6,14.4],[50.5,18.7],[50.6,22.8],[50.7,25.8],[50.7,26.6],[50.6,29.4],[50.6,30.0],[50.7,31.8],
  [51.0,35.6],[51.1,34.8],[51.2,33.5],[51.1,32.6],[51.3,34.3],[51.4,32.0],[51.5,33.2],[51.6,30.8],[51.7,32.4],[51.8,31.2],[51.9,29.8],[52.0,31.6],[52.1,30.3],[52.2,28.9],[52.3,30.9],[52.4,29.4],[52.5,31.7],[52.6,28.4],[52.7,30.0],[52.8,29.1],[52.9,27.6],[53.0,30.4],[53.1,28.7],[53.2,27.2],[53.3,29.5],[53.4,28.1],[53.5,26.7],[53.6,29.0],[53.7,27.5],[53.8,25.9],[53.9,28.3],[54.0,26.8],[54.1,25.4],[54.2,27.6],[54.3,26.2],[54.4,24.9],[54.5,27.0],[54.6,25.7],[54.7,24.3],
  [52.0,24.7],[52.0,26.0],[53.2,24.7],[54.1,23.2],[53.8,31.3],[52.9,33.9],
  [54.8,25.5],[54.9,23.6],[55.0,26.4],[55.1,24.2],[55.2,25.8],[55.3,23.0],[55.4,24.9],[55.5,26.6],[55.6,22.4],[55.7,24.0],[55.8,25.3],[55.9,21.8],[56.0,23.4],[56.1,25.0],[56.2,26.2],[56.3,22.7],[56.4,24.3],[56.5,21.4],[56.6,23.6],[56.7,25.5],[56.8,22.0],[56.9,24.4],[57.0,26.0],[57.1,21.0],[57.2,23.2],[57.3,25.0],[57.4,22.6],[57.5,24.1],[57.6,20.8],[57.7,22.9],[57.8,25.4],[57.9,21.6],[58.0,23.8],[58.1,25.0],[58.2,21.1],[58.3,22.8],[58.4,24.5],[58.5,21.9],[58.6,23.3],[58.7,25.2],[58.8,20.7],[58.9,22.5],[59.0,24.0],[59.1,21.5],[59.2,23.1],[59.3,24.9],[59.4,22.0],[59.5,23.7],[59.6,21.1],[59.7,22.8],[59.8,24.6],[59.9,22.2],[60.0,23.5],[60.1,25.1],[60.2,22.6],[60.3,24.2],[60.4,23.0],[57.6,11.0],[57.6,12.5],[58.6,20.0],[57.0,19.6],[60.0,19.5],
  [60.5,26.5],[60.6,27.2],[60.7,25.8],[60.8,26.8],[60.9,25.2],[61.0,26.2],[61.1,24.6],[61.2,25.6],[61.3,24.0],[61.4,25.0],[61.5,23.5],[61.6,24.4],[61.7,22.9],[61.8,23.7],[61.9,22.2],[62.0,23.0],[62.1,21.5],[62.2,22.4],[62.3,20.8],[62.1,17.6],
  [62.5,9.6],[62.6,11.9],[62.4,13.0],[62.5,14.2],[62.6,14.9],[62.7,15.5],[62.6,16.2],[62.7,16.8],
  [62.9,17.4],[63.0,16.1],[63.1,17.0],[63.2,15.6],[63.3,17.6],[63.4,16.4],[63.5,15.2],[63.6,17.2],[63.7,16.0],[63.8,17.8],[63.9,15.5],[64.0,16.8],[64.1,15.0],[64.2,17.3],[64.3,16.2],[64.4,17.9],[64.5,15.8],[64.6,16.9],[64.7,15.3],[64.8,17.5],[64.9,16.3],[65.0,17.0],[65.1,15.6],[65.2,16.6],[64.3,15.1],
  [65.0,21.2],[65.0,22.0],[65.1,22.9],[65.15,23.8],[65.5,16.2],[65.6,17.5],[65.6,18.8],[65.55,19.9],[65.5,20.7],[65.6,21.4],
  [65.8,19.2],[65.9,20.5],[66.0,19.8],[66.1,21.0],[66.2,20.2],[66.3,19.4],[66.4,20.8],[66.5,19.9],[66.6,21.3],[66.7,20.5],[66.8,19.6],[66.9,21.1],[67.0,20.3],[67.1,21.8],[67.2,20.7],[67.3,22.2],[67.4,21.3],[67.5,22.7],[67.6,21.6],[67.7,22.5],[67.8,21.0],[67.9,22.9],[68.0,21.9],[68.1,23.3],[68.2,22.3],[68.3,21.4],[68.4,23.0],[68.5,22.1],[68.6,23.5],[68.7,22.6],[68.8,21.7],[68.9,23.2],[69.0,22.4],[69.1,23.8],[69.2,22.9],[69.3,22.0],[69.4,23.4],[69.5,22.6],[69.6,23.9],[69.7,23.0],[69.8,22.2],[69.9,23.6],[70.0,22.8],[70.1,23.7],[70.2,22.9],[70.3,23.4],
  [67.1,16.6],[68.2,17.4],[68.7,17.4],[69.0,17.6],[68.4,18.6],
  [70.7,7.3],[70.4,16.3],[70.8,13.0],[70.8,14.0],[70.8,15.0],[71.0,16.5],[71.0,17.5],[71.1,18.3],[71.1,19.2],[71.0,20.0],[70.9,20.6],[71.0,19.5],
  [71.3,18.6],[71.4,19.9],[71.5,17.3],[71.6,19.0],[71.7,16.2],[71.8,18.2],[71.9,15.3],[72.0,17.5],[72.1,16.5],[72.2,14.6],[72.3,16.0],[72.4,15.0],[72.5,14.2],[72.6,13.5],[72.7,14.8],
  [72.9,9.2],[73.0,10.1],[72.9,10.8],[73.0,11.6],[73.1,12.4],[73.0,13.0],[73.2,13.7],[73.1,14.5],[73.2,15.4],[73.0,16.3],[73.2,17.0],
  [73.6,2.1],[73.7,5.4],[73.8,6.2],[73.8,6.8],[73.8,7.8],[73.7,10.9],[74.0,12.5],[73.9,14.2],[73.8,15.4],[73.8,16.2],[73.7,16.9],[73.9,18.2],[74.1,19.3],
  [74.2,20.4],[74.4,21.0],[74.3,21.8],[74.3,22.6],[74.5,19.6],[74.5,20.9],[74.7,24.7],[74.2,28.4],[74.2,42.6],
  [74.9,12.5],[75.0,14.0],[75.1,13.2],[75.2,11.4],[75.3,12.8],[75.4,10.6],[75.5,12.0],[75.6,10.0],[75.7,11.2],[75.8,9.4],[75.9,10.4],[76.0,11.5],[75.0,15.0],[75.1,15.6],[75.8,13.3],[76.1,5.4],[76.2,7.0],[75.7,9.0],
  [76.3,3.8],[76.4,4.3],[76.5,2.9],[76.6,3.5],[76.7,1.7],[76.8,2.6],[76.9,1.0],[77.0,2.1],[77.1,0.9],[77.2,1.6],[77.3,2.6],[77.4,1.2],[76.6,1.3],[76.8,3.8],
  // densely sampled core intervals
  [0.55,14.3],[0.75,15.3],[0.95,14.6],[1.15,16.2],[1.35,14.9],[1.55,15.4],[1.75,15.9],[1.95,15.6],[2.15,16.8],[2.35,15.8],[2.55,17.0],[2.75,16.2],[2.95,17.6],
  [4.35,16.0],[4.55,16.6],[4.75,17.6],[4.95,18.2],[5.15,18.8],[5.35,20.3],[5.55,19.0],[5.75,20.9],[5.9,20.3],[6.05,21.2],[6.2,20.5],[6.35,20.3],[6.5,21.4],[6.65,20.7],[6.8,21.6],[6.95,20.9],[7.1,21.9],[7.25,21.1],[7.4,20.5],[7.55,21.2],[7.7,21.9],[7.85,21.0],[8.0,21.9],[8.15,21.2],[8.3,20.5],[8.45,22.0],[8.6,21.3],[8.75,22.1],[8.9,20.8],[9.05,21.6],[9.2,22.2],[9.35,21.6],[9.45,22.4],
  [12.55,17.8],[12.75,17.2],[12.95,18.4],[13.15,18.9],[13.35,19.6],[13.55,19.8],[13.75,21.8],[13.95,20.4],[14.15,20.2],[14.25,21.2],
  [14.45,19.4],[14.65,18.2],[14.85,18.3],[15.05,18.5],[15.25,17.4],[15.45,17.0],[15.65,17.4],[15.85,17.6],[16.05,16.4],[16.25,16.5],[16.45,17.0],[16.65,15.6],[16.85,16.5],[17.05,16.0],[17.25,16.2],[17.45,15.0],[17.65,16.0],
  [18.25,14.4],[18.45,13.8],[18.65,14.9],[18.85,14.4],[19.05,14.6],[19.25,15.4],[19.45,15.2],[19.65,14.4],[19.85,15.2],[20.05,14.2],[20.25,15.0],[20.45,14.8],
  [21.05,10.5],[21.25,10.9],[21.45,10.2],[21.65,10.8],[21.85,10.2],[22.05,10.4],[22.25,10.0],[22.45,9.6],[22.65,10.2],[22.85,9.8],[23.05,10.3],[23.25,9.5],[23.45,10.2],[23.65,9.8],[23.85,10.4],[24.05,9.4],[24.25,9.8],[24.45,9.6],[24.65,10.0],[24.85,9.6],[25.1,9.8],[25.4,9.6],[25.7,9.0],[26.05,8.5],[26.25,8.4],[26.45,8.8],
  [27.65,29.8],[27.85,30.0],[28.05,28.8],[28.25,29.4],[28.45,27.8],[28.65,27.6],[28.85,26.3],[29.05,26.0],[29.25,25.4],[29.45,26.0],[29.65,25.4],[29.85,26.6],[30.05,27.6],[30.25,27.2],[30.45,28.0],[30.65,26.8],[30.85,27.4],[31.05,28.2],[31.25,27.0],[31.45,26.2],[31.65,26.8],[31.85,25.3],
  [37.2,25.4],[37.4,25.0],[37.6,24.5],[37.8,24.6],[38.0,24.0],[38.2,24.0],[38.4,24.3],[38.6,23.4],[38.8,23.0],[39.0,23.6],[39.2,22.5],[39.4,23.6],[39.6,22.8],[39.8,23.0],[40.0,22.2],[40.2,22.4],[40.4,21.9],[40.6,22.6],
  [43.3,28.2],[43.7,28.4],[43.9,28.8],[44.1,29.4],[44.3,29.0],[44.5,27.8],[44.7,28.6],[44.9,27.4],[45.1,27.2],[45.3,26.8],[45.5,26.2],[45.7,25.4],
  [46.45,10.2],[46.55,11.2],[46.75,10.8],[46.95,11.2],[47.15,11.4],[47.35,11.8],[47.55,12.6],[47.75,12.3],[47.95,13.0],[48.15,14.0],[48.35,14.4],[48.55,14.2],[48.75,15.2],[48.95,15.8],[49.15,16.4],
  [51.05,34.2],[51.25,32.8],[51.45,33.2],[51.65,31.8],[51.85,30.6],[52.05,30.7],[52.25,29.8],[52.45,30.4],[52.65,29.4],[52.85,28.4],[53.05,29.2],[53.25,28.4],[53.45,27.4],[53.65,28.0],[53.85,27.0],[54.05,27.4],[54.25,26.0],[54.45,25.8],[54.65,26.4],
  [54.85,24.4],[55.05,25.1],[55.25,24.6],[55.45,23.4],[55.65,25.2],[55.85,23.4],[56.05,24.6],[56.25,23.8],[56.45,22.6],[56.65,24.4],[56.85,23.2],[57.05,22.4],[57.25,24.2],[57.45,23.5],[57.65,22.2],[57.85,23.6],[58.05,22.4],[58.25,23.8],[58.45,23.0],[58.65,22.2],[58.85,23.6],[59.05,22.6],[59.25,22.0],[59.45,23.4],[59.65,22.6],[59.85,23.4],[60.05,22.0],[60.25,23.6],
  [60.55,26.8],[60.75,26.2],[60.95,25.8],[61.15,25.2],[61.35,24.6],[61.55,24.0],[61.75,23.4],[61.95,22.8],[62.15,22.0],[62.25,21.6],
  [62.95,16.6],[63.15,16.4],[63.35,16.8],[63.55,16.2],[63.75,16.6],[63.95,16.6],[64.15,16.2],[64.35,16.8],[64.55,16.4],[64.75,16.2],[64.95,16.8],
  [65.85,20.0],[66.05,20.6],[66.25,20.8],[66.45,20.1],[66.65,20.2],[66.85,20.6],[67.05,21.0],[67.25,21.4],[67.45,22.0],[67.65,22.2],[67.85,22.2],[68.05,22.6],[68.25,22.8],[68.45,22.6],[68.65,22.4],[68.85,22.8],[69.05,23.0],[69.25,23.4],[69.45,23.0],[69.65,23.2],[69.85,23.0],[70.05,23.2],[70.25,23.2],
];

// Hole U1354A, natural gamma radiation (cps)
const ngrHoleA: Pt[] = [
  [0.07,21.5],[0.18,23.6],[0.35,24.9],[0.6,26.0],[0.46,25.5],[0.81,27.1],[0.95,28.2],[1.06,29.8],[1.41,30.2],[1.58,29.5],[1.76,31.5],[2.0,32.6],[2.22,33.7],[2.1,33.1],[2.46,34.2],[2.7,34.7],[3.0,35.3],[2.82,29.3],[3.87,36.4],[3.98,37.1],[3.24,38.6],[3.35,39.7],[3.42,41.0],[3.77,41.0],[3.63,45.3],[3.87,45.4],[4.12,50.0],
  [4.23,54.1],[4.47,54.9],[4.75,56.0],[4.93,55.4],[4.82,58.2],[4.68,56.5],[5.28,50.3],[5.46,51.6],[5.63,52.7],[5.53,53.6],[5.81,52.2],[5.99,54.4],[6.23,51.1],[6.34,49.8],
  [6.76,31.7],[6.94,39.1],[6.69,40.2],[6.58,41.8],[7.11,42.9],[6.41,46.7],[7.29,46.5],[7.39,47.8],[8.1,49.1],[7.99,50.5],[7.64,52.7],[7.85,53.3],[7.85,54.6],[8.2,40.0],[8.38,43.5],[8.63,46.7],
  [8.8,47.3],[8.98,47.8],[9.26,46.7],[9.15,48.4],[9.68,44.8],[10.04,44.0],[10.04,45.6],[10.39,44.6],[10.56,46.2],[10.8,44.9],[9.68,37.8],[11.27,35.3],[11.09,41.5],[11.44,40.0],[11.44,42.4],[11.8,42.9],[11.62,43.5],[12.15,39.9],[11.97,42.7],
  [13.56,17.3],[13.66,17.6],[13.38,19.3],[13.73,19.5],[13.84,21.2],
  [14.37,4.8],[14.54,5.6],[14.68,10.5],[14.79,17.9],
  [16.37,9.7],[16.48,15.4],[16.55,40.2],
  [16.65,60.5],[17.0,61.8],[16.8,64.2],[16.83,65.8],[17.25,59.3],[17.6,59.8],[17.96,60.9],[18.06,64.9],[18.31,56.0],[18.49,58.2],[18.66,59.8],[18.94,62.0],[19.19,57.1],[19.19,59.3],[19.54,56.5],[19.65,63.1],[19.72,64.4],[20.18,61.2],[20.32,62.0],[19.89,63.6],[17.43,60.7],[18.77,58.7],
  [20.85,30.6],[20.95,47.6],[20.7,56.5],[20.6,58.7],[21.23,57.6],[21.73,54.4],[21.48,56.5],[21.9,51.6],[22.08,49.5],[22.29,44.8],[22.64,45.6],[22.36,42.4],[22.82,41.3],[22.99,38.6],[23.35,36.9],[23.59,35.8],[23.7,34.2],[23.94,37.5],[24.12,36.4],
  [24.93,37.8],[25.35,39.7],[25.81,40.2],[26.06,35.3],[26.13,36.9],[26.23,40.7],[26.69,42.4],[26.58,40.4],[27.11,41.8],[27.36,36.9],[27.64,38.6],[28.17,37.8],[28.52,36.7],[28.87,37.5],[29.05,38.6],[29.47,34.7],[29.68,36.1],[29.93,37.5],[30.11,38.6],[30.46,39.7],[30.74,40.7],[30.63,41.8],[30.99,38.0],[25.1,39.1],[28.17,38.2],[29.4,38.9],
  [30.28,38.6],[30.45,39.7],[30.73,41.1],[30.8,42.2],[31.16,38.0],[31.23,39.7],
  [31.4,6.6],[31.58,8.3],[31.75,9.9],[31.86,14.1],[31.97,31.3],
  [32.1,49.8],[32.28,50.5],[32.14,52.2],[32.49,53.3],[32.56,53.8],[32.67,48.4],[32.92,55.8],[33.09,59.8],[33.27,60.9],[33.45,62.5],[33.37,63.1],[33.73,57.6],[33.55,59.5],[33.97,51.6],[34.08,48.6],[34.22,50.0],[33.9,55.1],[34.33,45.1],[34.4,56.0],[34.5,55.4],[34.61,59.3],[34.75,60.9],[34.68,62.2],[35.03,61.4],[34.92,62.7],[35.45,63.9],[35.66,55.4],[35.73,46.2],[35.91,56.5],[35.63,58.5],
  [36.26,57.1],[36.44,58.5],[36.44,59.8],[36.79,61.4],[36.97,57.6],[37.49,57.4],[37.14,53.8],[38.02,52.7],[37.92,55.4],[37.67,60.9],[37.67,63.1],[38.62,50.0],[38.73,53.8],[38.9,54.9],[39.18,56.5],[39.08,58.7],[39.33,60.3],[39.54,59.8],
  [40.06,43.5],[40.21,44.9],[40.03,48.6],[39.89,51.4],[40.31,52.7],[40.42,58.7],
  [40.49,68.7],[40.66,70.9],[40.84,72.0],[41.02,67.6],[41.19,64.7],[41.09,60.1],[41.47,55.4],[41.37,57.1],[41.61,58.7],[41.9,59.3],[41.9,62.0],[41.79,63.6],[42.49,62.5],[42.07,56.0],[42.25,57.4],[42.49,60.9],[42.6,58.2],[43.02,56.0],[42.95,57.6],[43.06,60.3],[43.2,63.6],[43.66,57.1],[43.48,59.3],[44.01,56.5],[43.94,58.7],[44.47,55.4],[44.54,57.4],[44.89,58.2],[45.06,59.3],[44.82,60.9],[45.24,57.1],[45.52,58.7],[45.95,54.9],[46.05,56.5],[46.23,58.2],[46.58,56.5],[46.47,57.4],
  [47.0,19.8],[47.11,32.6],
  [46.72,51.6],[47.25,50.5],[47.35,53.3],[47.46,54.9],[47.6,57.1],[47.78,53.1],[48.13,53.3],[48.52,54.4],[47.99,45.6],[47.95,46.4],[48.3,50.0],[48.94,57.6],[49.11,58.2],[49.29,59.3],[49.54,60.3],[49.82,58.7],[50.0,56.5],[50.17,59.3],[50.45,60.9],[50.63,63.1],[50.87,57.1],[50.7,60.3],
  [51.51,36.1],[51.33,38.9],[51.58,39.4],[51.3,40.7],[51.12,43.2],[51.05,50.0],[51.68,46.4],[51.75,48.0],[51.93,49.8],[52.04,53.3],[52.28,53.8],[52.21,58.4],[53.06,39.1],[52.81,41.5],[53.34,42.4],[52.64,44.0],[53.27,41.3],[53.94,37.3],[54.04,38.9],[54.15,42.4],[53.62,43.7],[54.33,44.0],[54.64,45.1],[54.92,46.7],[55.17,44.6],[54.75,45.6],
  [55.91,35.3],[55.91,37.5],[55.38,39.7],[55.63,42.4],[56.44,21.5],[56.58,26.3],[56.33,28.0],[56.23,30.9],[56.16,32.4],[56.68,33.1],[56.75,40.7],[56.44,50.9],[56.51,50.5],[56.58,56.0],[57.5,54.1],[57.21,54.9],[56.86,55.8],[56.97,14.9],[57.14,10.2],
  [57.21,9.7],[57.39,10.6],[57.85,8.6],[58.02,9.4],[58.37,8.1],[58.62,9.2],[59.08,8.8],[59.43,7.7],[59.61,8.6],[59.85,9.9],[59.96,11.7],[59.85,12.7],[60.28,9.7],[59.26,8.1],[58.9,7.3],[58.27,9.5],
  [58.09,58.2],[58.45,59.3],[58.8,60.9],[59.04,62.0],[59.33,59.3],[59.43,57.4],[59.75,60.9],[60.31,61.4],[60.28,59.3],[60.84,52.2],[60.98,56.5],[61.26,60.9],[61.44,62.5],[61.61,65.3],[58.27,60.0],[58.69,58.7],
  [60.92,52.2],[60.92,56.0],[61.09,57.4],[61.27,60.3],[61.51,62.0],[61.62,63.6],[61.69,65.0],[61.97,58.5],[62.22,62.0],[62.15,63.6],[62.22,52.7],[62.57,61.4],[62.57,63.6],[62.78,65.3],[62.78,66.1],[63.03,62.5],[63.28,60.9],[63.49,64.2],[63.84,61.8],[63.84,57.1],[64.01,59.3],[64.26,62.0],[64.54,63.1],[64.68,58.2],
  [65.04,39.1],[65.14,40.2],[65.25,46.0],[65.32,50.8],[65.6,53.8],[65.74,54.4],[65.95,55.4],[66.2,54.9],[66.37,48.9],[66.73,51.1],[66.8,52.2],[67.08,49.1],[67.25,48.9],[67.43,45.6],[67.36,46.7],[67.78,43.2],[67.61,45.1],[67.96,35.0],[68.13,48.4],[68.24,52.7],[68.42,53.8],[68.56,50.9],[68.77,45.1],[68.91,42.6],[69.01,39.7],[69.26,38.9],[69.47,33.7],[69.54,35.6],[69.72,39.4],
  [69.82,48.7],[70.32,52.2],[69.97,54.1],[70.07,56.0],[70.18,57.1],[70.6,49.5],[70.78,50.5],[70.6,46.0],[71.06,47.5],[71.3,44.6],[71.59,43.5],[71.94,44.0],[72.36,43.5],[72.54,44.6],[73.06,45.3],[72.71,41.6],[72.47,36.6],[73.31,37.7],[72.96,47.1],[73.77,30.7],[73.87,34.5],[73.94,40.7],[74.12,43.8],[74.23,47.3],[74.47,48.0],[74.82,45.1],[75.0,46.2],[74.93,43.2],[75.07,39.3],[75.25,48.0],[75.46,47.6],[75.53,44.9],[75.6,42.4],[75.7,37.3],
  [78.45,19.0],[78.59,25.3],[78.7,31.2],[78.98,32.4],[79.12,33.7],[79.23,29.5],[79.58,31.5],[79.75,33.1],[80.0,32.6],[80.28,24.7],[80.18,29.8],[80.56,10.6],[80.67,16.6],[80.81,28.8],[80.88,38.2],
  [80.99,44.3],[81.09,45.1],[81.16,47.3],[81.27,51.1],[81.58,50.5],[81.8,47.8],[81.87,42.9],[82.04,46.5],[82.15,47.3],[82.29,51.1],[82.57,50.0],[82.64,51.6],[83.03,50.9],[83.1,52.2],[83.2,50.0],[83.28,45.3],[83.38,43.8],[83.45,36.6],[83.63,51.1],[83.7,48.4],[83.91,52.0],[83.98,49.8],[84.26,47.8],[84.4,45.3],[84.51,38.9],[84.68,41.3],[84.86,42.4],[84.97,42.9],[85.04,43.7],[85.21,40.4],[85.28,39.3],[85.39,34.5],
];

// Hole U1354B, natural gamma radiation (cps)
const ngrHoleB: Pt[] = [
  [0.0,20.8],[0.1,21.8],[0.18,24.3],[0.35,25.8],[0.53,26.8],[0.7,27.6],[0.88,28.7],[1.06,29.2],[1.23,31.4],[1.58,32.0],[1.76,33.0],[2.0,33.6],[2.29,34.7],[2.57,34.1],[2.82,35.2],[3.06,36.0],[3.0,32.0],[3.17,37.4],[3.35,38.8],[3.52,40.1],[1.06,30.3],[1.41,32.7],[2.64,33.4],
  [3.87,41.2],[3.77,43.2],[3.87,44.2],[4.12,36.6],[4.23,40.7],[4.58,42.3],[4.75,43.4],[4.93,44.5],[5.1,46.1],[5.28,47.2],[5.99,47.7],[5.88,46.6],[5.63,46.1],[5.74,43.4],[5.63,38.5],[6.34,46.4],[6.69,45.5],[6.94,44.5],[7.04,43.4],[6.97,41.7],[7.15,35.5],[7.39,45.0],[7.64,43.9],[7.92,42.8],[8.2,41.7],[8.91,42.3],[8.7,40.7],[8.56,39.6],[8.63,33.6],[9.15,41.2],[9.51,40.1],[9.68,39.0],[9.86,36.3],[10.21,34.7],
  [10.04,30.3],[10.39,29.8],[10.56,27.1],[10.81,26.5],[10.99,28.2],[10.04,24.3],[10.74,22.7],[11.09,21.8],[12.43,20.5],[11.27,17.8],[11.62,17.3],[11.62,15.1],[11.8,14.0],[11.87,11.8],[12.08,10.8],[12.15,9.7],[12.22,9.1],
  [12.57,39.6],[12.68,47.5],[12.78,52.4],[12.85,56.4],[13.03,58.6],[13.03,62.7],[13.73,62.4],[13.73,61.1],[13.49,65.7],[13.2,67.8],[13.31,68.9],[13.98,66.4],[13.66,56.7],[14.26,64.0],[14.44,65.1],[14.33,67.0],[14.89,61.3],[14.79,62.4],[15.14,62.9],[15.04,58.0],[15.14,50.8],[15.49,67.8],[15.67,69.5],[16.02,70.0],[16.3,70.5],[16.2,68.4],[16.55,68.9],[16.44,65.7],[16.65,64.0],[16.65,59.1],[17.15,67.8],[17.08,69.5],[16.9,71.1],[17.54,64.2],[17.61,62.4],[13.56,61.8],[13.91,62.9],
  [17.89,18.4],[18.03,20.0],[17.78,25.8],[18.13,27.9],[17.71,43.6],[18.24,44.2],
  [19.26,43.4],[19.89,43.4],[19.82,45.5],[19.72,47.2],[19.61,48.3],[19.47,49.7],[19.3,51.0],[19.01,55.3],[18.66,58.0],[18.56,58.6],[20.18,39.0],[20.25,40.7],[20.35,41.4],[19.12,53.2],
  [21.23,30.9],[20.95,32.8],[21.9,34.1],[21.09,36.1],[22.0,36.6],[21.48,37.9],[21.65,39.0],[22.0,39.6],[21.73,40.7],[21.58,41.7],[22.29,39.0],[22.64,37.9],[22.89,38.5],[23.13,36.8],[23.42,38.5],[23.77,37.4],[24.12,37.9],[24.65,39.6],[25.0,39.0],[25.35,38.5],[24.3,37.4],[25.7,33.6],[25.88,35.2],[26.41,34.7],[26.23,35.8],[27.22,37.1],[24.54,38.2],[23.94,38.8],[23.59,37.7],
  [26.65,6.2],[26.83,7.7],[27.04,10.0],[27.15,16.4],
  [27.36,51.5],[27.54,54.2],[27.64,55.3],[27.64,59.7],[27.82,61.8],[28.06,58.0],[28.52,53.7],[28.45,55.3],[28.98,56.4],[28.87,59.7],[29.68,54.8],[29.4,57.3],[29.68,41.0],[29.58,49.7],[30.11,58.6],[29.93,60.8],[30.39,62.9],[30.46,60.2],[30.74,57.8],[27.99,54.2],[29.23,59.1],
  [30.28,58.6],[30.45,60.2],[30.38,62.4],[30.8,60.8],[31.33,59.1],[31.44,61.8],[31.79,58.0],[31.86,60.8],[32.21,62.4],[32.39,60.2],[32.74,57.0],[32.99,55.3],[33.27,55.9],
  [32.67,45.3],[32.56,52.9],[33.62,21.1],[33.73,31.7],[33.8,50.4],[33.9,54.2],[33.97,55.9],[34.25,59.7],[34.5,60.2],[34.68,58.0],[35.21,52.1],[35.38,54.2],[35.73,53.4],[35.56,58.6],[36.26,46.1],[36.16,48.8],[36.44,54.2],[35.8,57.5],[35.38,59.5],[36.26,53.7],
  [36.97,66.7],[36.79,67.8],[36.61,72.0],[38.09,48.3],[37.95,57.0],[37.67,60.2],[37.49,62.4],[38.55,59.7],[38.9,60.8],[39.25,61.8],[39.68,54.8],[39.96,57.0],[40.31,58.6],[40.49,59.7],[40.59,62.4],[40.66,64.0],[41.02,55.9],[40.84,57.5],[38.2,60.8],[39.43,58.6],
  [41.54,48.3],[41.72,48.8],[42.6,51.0],[42.07,54.2],[43.13,53.7],[42.42,56.4],[42.78,57.5],[43.66,58.0],[44.01,59.1],[44.18,57.0],[44.54,58.6],[44.36,60.2],[44.89,61.3],[45.24,62.4],[45.59,64.0],[45.77,65.7],[45.77,62.4],[45.95,60.2],[41.9,57.0],[43.48,59.1],[41.54,58.0],
  [46.23,38.5],[46.47,39.6],[46.65,40.3],[46.12,45.0],[46.65,45.5],[46.05,49.7],[46.83,51.0],[46.93,53.2],[47.0,55.3],[46.02,55.1],[47.18,58.4],[47.28,59.9],[47.42,63.5],[47.64,49.3],[47.71,45.5],[47.88,43.4],[48.23,42.3],[48.59,41.5],[49.11,39.0],[49.29,42.1],[49.47,44.7],[49.82,45.5],[50.17,47.2],[50.63,34.9],[50.7,38.7],[50.8,49.9],[50.87,54.5],[48.41,41.7],[48.94,39.6],
  [51.12,57.5],[51.23,59.1],[51.58,60.2],[51.93,57.0],[52.28,58.6],[52.64,59.7],[52.99,59.1],[53.52,57.0],[53.87,61.3],[53.97,62.9],[54.4,61.8],[54.92,57.3],[55.17,58.0],[55.28,61.3],[55.45,62.9],[56.16,64.0],[56.09,65.1],[53.34,59.7],[54.4,58.6],[55.8,62.4],
  [56.68,57.3],[56.68,60.2],[56.86,61.8],[57.04,62.9],[57.39,63.5],[57.74,48.3],[57.85,52.1],[58.09,54.8],[58.45,55.3],[58.62,58.0],[58.8,59.7],[58.97,61.8],[59.33,60.2],[59.68,57.3],[60.03,47.9],[59.85,51.5],[59.85,53.4],[60.38,56.4],[60.91,57.3],[61.09,57.0],[58.97,58.6],[59.15,61.3],
  [61.26,52.6],[61.61,50.4],[61.97,48.8],[62.14,46.6],[61.51,44.5],[62.67,34.1],[62.85,39.9],[62.92,43.2],[63.2,45.5],[63.37,48.3],[63.37,51.5],[64.18,35.2],[64.08,37.4],[64.54,39.0],[64.78,39.6],[63.9,41.2],[63.73,44.5],[63.62,46.6],[64.96,46.6],[65.42,50.7],[65.14,54.2],[65.21,58.6],[65.14,60.2],[64.25,38.5],[62.32,47.7],
  [65.66,40.7],[65.73,41.7],[65.49,46.4],[65.84,49.1],[66.02,52.6],[66.19,53.7],[66.54,45.5],[66.9,46.1],[67.25,45.0],[67.42,47.2],[67.07,48.8],[67.78,49.3],[67.95,45.5],[68.48,46.1],[68.83,46.6],[69.01,48.3],[69.36,49.9],[69.89,51.0],[70.24,46.6],[67.25,40.3],[67.6,45.3],[68.3,47.2],[69.54,48.8],
  [70.66,34.1],[70.87,35.8],[70.94,39.0],[71.12,42.3],[71.23,43.4],[71.3,45.5],[71.3,47.7],[71.47,49.3],[71.82,51.0],[72.0,48.3],[72.18,46.1],[72.6,43.9],[72.81,40.7],[73.06,37.9],[73.41,36.8],[73.06,34.1],[73.69,30.9],[73.83,28.2],[73.76,25.4],[74.12,38.5],[74.29,46.1],[74.4,48.8],[72.35,47.2],
  [74.6,27.0],[74.8,29.5],[75.0,31.0],[75.2,28.5],[75.3,33.0],[75.5,30.5],[75.7,32.0],[75.8,34.0],[75.9,29.0],[75.6,36.0],[75.1,35.5],[74.7,40.0],[74.9,44.0],[74.5,48.5],[74.6,47.0],
  [76.2,4.9],[76.5,5.5],[76.8,5.9],[77.0,6.2],
];

const RED = "#ec1c24";
const INK = "#231f20";
const FONT = "'Liberation Sans', Arial, Helvetica, sans-serif";

const W = 1346;
const H = 1039;
const plotLeft = 87;
const plotRight = 1312;
const plotTop = 175;
const plotBottom = 1027;
const panelW = (plotRight - plotLeft) / 4;

type Panel = {
  key: string;
  header: string[];
  headerY: number[];
  headerX: number;
  data: Pt[];
  max: number;
  ticks: number[];
  color: string;
  gaps: boolean;
};

const panels: Panel[] = [
  {
    key: "msA",
    header: ["Hole U1354A", "Magnetic susceptibility", "loop sensor", "(instrument units)"],
    headerY: [28, 71, 100, 128],
    headerX: 246,
    data: msHoleA,
    max: 50,
    ticks: msTicks,
    color: RED,
    gaps: true,
  },
  {
    key: "msB",
    header: ["Hole U1354B", "Magnetic susceptibility", "loop sensor", "(instrument units)"],
    headerY: [28, 71, 100, 128],
    headerX: 552,
    data: msHoleB,
    max: 50,
    ticks: msTicks,
    color: INK,
    gaps: false,
  },
  {
    key: "ngrA",
    header: ["Hole U1354A", "NGR", "(cps)"],
    headerY: [55, 100, 128],
    headerX: 865,
    data: ngrHoleA,
    max: 100,
    ticks: ngrTicksA,
    color: RED,
    gaps: true,
  },
  {
    key: "ngrB",
    header: ["Hole U1354B", "NGR", "(cps)"],
    headerY: [55, 100, 128],
    headerX: 1169,
    data: ngrHoleB,
    max: 100,
    ticks: ngrTicksB,
    color: INK,
    gaps: false,
  },
];

export default function App() {
  const y = d3.scaleLinear().domain([0, 90]).range([plotTop, plotBottom]);

  return (
    <svg
      width={W}
      height={H}
      viewBox={`0 0 ${W} ${H}`}
      style={{ position: "absolute", left: 0, top: 0, display: "block", background: "#fff" }}
      fontFamily={FONT}
    >
      <rect x={0} y={0} width={W} height={H} fill="#fff" />

      {/* depth axis title */}
      <text
        transform={`translate(28, ${(plotTop + plotBottom) / 2 - 2}) rotate(-90)`}
        textAnchor="middle"
        fontSize={24}
        fill={INK}
      >
        Depth CSF-A (m)
      </text>

      {/* depth tick labels */}
      {depthTicks.map((t) => (
        <text key={`dl${t}`} x={78} y={y(t) + 7} textAnchor="end" fontSize={20} fill={INK}>
          {t}
        </text>
      ))}

      {panels.map((p, i) => {
        const x0 = plotLeft + i * panelW;
        const x = d3.scaleLinear().domain([0, p.max]).range([x0, x0 + panelW]);
        return (
          <g key={p.key}>
            {p.header.map((h, k) => (
              <text key={k} x={p.headerX} y={p.headerY[k]} textAnchor="middle" fontSize={24} fill={INK}>
                {h}
              </text>
            ))}

            {p.ticks.map((t) => (
              <text key={`xl${t}`} x={x(t)} y={165} textAnchor="middle" fontSize={20} fill={INK}>
                {t}
              </text>
            ))}

            {p.ticks
              .filter((t) => t > 0 && t < p.max)
              .map((t) => (
                <g key={`xt${t}`} stroke={INK} strokeWidth={2}>
                  <line x1={x(t)} x2={x(t)} y1={plotTop} y2={plotTop + 10} />
                  <line x1={x(t)} x2={x(t)} y1={plotBottom} y2={plotBottom - 10} />
                </g>
              ))}

            {depthTicks
              .filter((t) => t > 0 && t < 90)
              .map((t) => (
                <g key={`yt${t}`} stroke={INK} strokeWidth={2}>
                  <line x1={x0} x2={x0 + 13} y1={y(t)} y2={y(t)} />
                  <line x1={x0 + panelW} x2={x0 + panelW - 13} y1={y(t)} y2={y(t)} />
                </g>
              ))}
            {depthMinorTicks.map((t) => (
              <g key={`ym${t}`} stroke={INK} strokeWidth={2}>
                <line x1={x0} x2={x0 + 8} y1={y(t)} y2={y(t)} />
                <line x1={x0 + panelW} x2={x0 + panelW - 8} y1={y(t)} y2={y(t)} />
              </g>
            ))}

            {p.gaps &&
              gapDepths.map((g) => (
                <line
                  key={`gap${g}`}
                  x1={x0}
                  x2={x0 + panelW}
                  y1={y(g)}
                  y2={y(g)}
                  stroke="#a3a3a3"
                  strokeWidth={2}
                  strokeDasharray="10 5 3 5"
                />
              ))}

            <g fill={p.color}>
              {p.data.map((d, k) => (
                <circle key={k} cx={x(d[1])} cy={y(d[0])} r={2.3} />
              ))}
            </g>

            <rect
              x={x0}
              y={plotTop}
              width={panelW}
              height={plotBottom - plotTop}
              fill="none"
              stroke={INK}
              strokeWidth={2}
            />
          </g>
        );
      })}
    </svg>
  );
}
